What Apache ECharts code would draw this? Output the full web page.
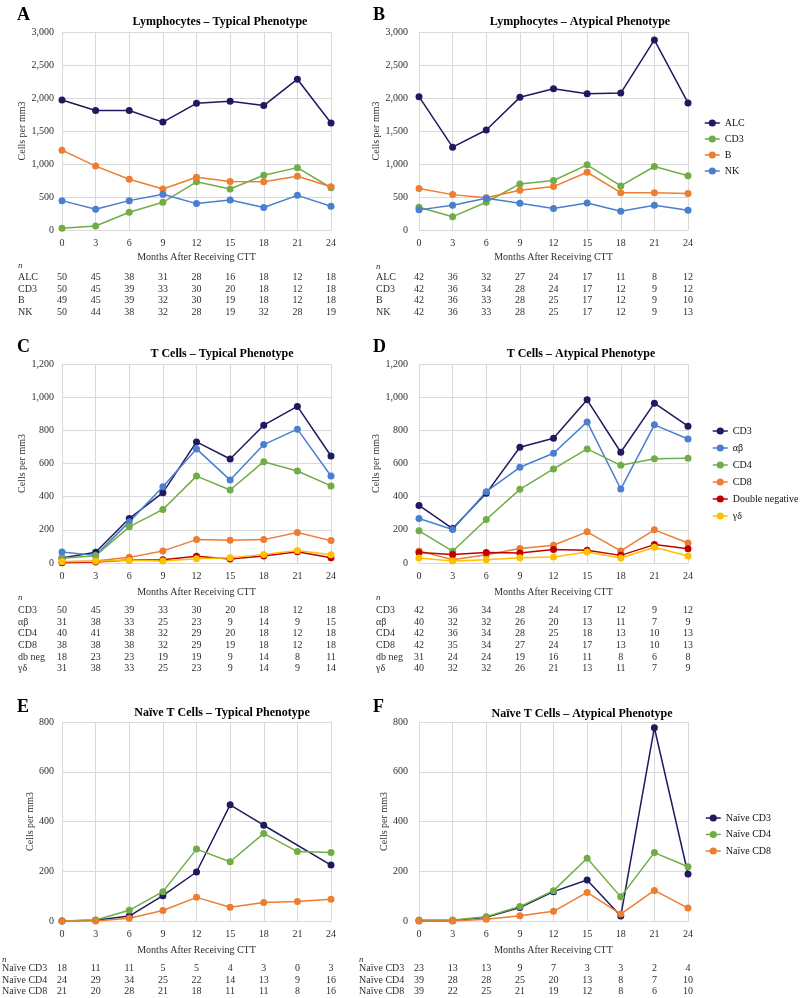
<!DOCTYPE html>
<html><head><meta charset="utf-8">
<script src="https://cdn.jsdelivr.net/npm/echarts@6/dist/echarts.min.js"></script>
<style>html,body{margin:0;padding:0;background:#fff}#c{width:800px;height:998px}</style>
</head><body><div id="c"></div>
<script>
// ---------- DATA ----------
const months = [0, 3, 6, 9, 12, 15, 18, 21, 24];

// A: Lymphocytes – Typical
const aALC = [1970, 1810, 1810, 1635, 1920, 1950, 1885, 2285, 1620];
const aCD3 = [25, 60, 268, 420, 730, 622, 830, 945, 640];
const aB   = [1210, 968, 770, 622, 800, 735, 730, 815, 655];
const aNK  = [445, 314, 445, 542, 400, 455, 340, 525, 360];
const nA_ALC = [50, 45, 38, 31, 28, 16, 18, 12, 18];
const nA_CD3 = [50, 45, 39, 33, 30, 20, 18, 12, 18];
const nA_B   = [49, 45, 39, 32, 30, 19, 18, 12, 18];
const nA_NK  = [50, 44, 38, 32, 28, 19, 32, 28, 19];

// B: Lymphocytes – Atypical
const bALC = [2020, 1255, 1515, 2010, 2140, 2065, 2075, 2880, 1925];
const bCD3 = [345, 202, 420, 698, 750, 987, 668, 962, 823];
const bB   = [628, 536, 488, 602, 658, 875, 566, 566, 552];
const bNK  = [305, 374, 480, 404, 325, 410, 285, 374, 300];
const nB_ALC = [42, 36, 32, 27, 24, 17, 11, 8, 12];
const nB_CD3 = [42, 36, 34, 28, 24, 17, 12, 9, 12];
const nB_B   = [42, 36, 33, 28, 25, 17, 12, 9, 10];
const nB_NK  = [42, 36, 33, 28, 25, 17, 12, 9, 13];

// C: T Cells – Typical
const cCD3 = [30, 65, 268, 424, 730, 627, 831, 944, 645];
const cAB  = [67, 46, 248, 460, 688, 500, 714, 807, 525];
const cCD4 = [28, 44, 218, 323, 524, 440, 611, 555, 465];
const cCD8 = [8, 12, 34, 73, 141, 137, 141, 184, 135];
const cDN  = [2, 6, 18, 20, 40, 24, 42, 68, 32];
const cGD  = [8, 10, 16, 12, 26, 32, 52, 75, 50];
const nC_CD3 = [50, 45, 39, 33, 30, 20, 18, 12, 18];
const nC_AB  = [31, 38, 33, 25, 23, 9, 14, 9, 15];
const nC_CD4 = [40, 41, 38, 32, 29, 20, 18, 12, 18];
const nC_CD8 = [38, 38, 38, 32, 29, 19, 18, 12, 18];
const nC_DN  = [18, 23, 23, 19, 19, 9, 14, 8, 11];
const nC_GD  = [31, 38, 33, 25, 23, 9, 14, 9, 14];

// D: T Cells – Atypical
const dCD3 = [347, 208, 420, 698, 752, 984, 668, 964, 825];
const dAB  = [268, 202, 430, 577, 662, 851, 446, 833, 748];
const dCD4 = [194, 71, 262, 444, 567, 688, 589, 629, 632];
const dCD8 = [73, 20, 50, 87, 107, 188, 73, 200, 121];
const dDN  = [63, 52, 63, 60, 81, 77, 46, 111, 86];
const dGD  = [30, 12, 20, 32, 36, 67, 30, 95, 42];
const nD_CD3 = [42, 36, 34, 28, 24, 17, 12, 9, 12];
const nD_AB  = [40, 32, 32, 26, 20, 13, 11, 7, 9];
const nD_CD4 = [42, 36, 34, 28, 25, 18, 13, 10, 13];
const nD_CD8 = [42, 35, 34, 27, 24, 17, 13, 10, 13];
const nD_DN  = [31, 24, 24, 19, 16, 11, 8, 6, 8];
const nD_GD  = [40, 32, 32, 26, 21, 13, 11, 7, 9];

// E: Naïve T Cells – Typical
const eCD3 = [0, 3, 20, 102, 197, 467, 385, null, 225];
const eCD4 = [0, 4, 43, 118, 289, 238, 352, 279, 275];
const eCD8 = [0, 0, 11, 42, 95, 55, 74, 78, 87];
const nE_CD3 = [18, 11, 11, 5, 5, 4, 3, 0, 3];
const nE_CD4 = [24, 29, 34, 25, 22, 14, 13, 9, 16];
const nE_CD8 = [21, 20, 28, 21, 18, 11, 11, 8, 16];

// F: Naïve T Cells – Atypical
const fCD3 = [1, 1, 15, 54, 118, 165, 20, 777, 189];
const fCD4 = [4, 4, 17, 58, 122, 252, 97, 275, 218];
const fCD8 = [0, 0, 7, 21, 39, 115, 28, 123, 52];
const nF_CD3 = [23, 13, 13, 9, 7, 3, 3, 2, 4];
const nF_CD4 = [39, 28, 28, 25, 20, 13, 8, 7, 10];
const nF_CD8 = [39, 22, 25, 21, 19, 12, 8, 6, 10];

// ---------- STYLE ----------
const FONT = '"Liberation Serif", "Times New Roman", serif';
const NAVY = '#1d1a60', GREEN = '#70ad47', ORANGE = '#ed7d31', BLUE = '#4a7ecf', RED = '#c00000', GOLD = '#ffc000';
const GRIDC = '#d9d9d9', TXT = '#2e2e2e';
const X_NAME = 'Months After Receiving CTT', Y_NAME = 'Cells per mm3';

const panels = [
  { letter: 'A', title: 'Lymphocytes – Typical Phenotype', yMax: 3000, yStep: 500,
    series: [['ALC', aALC, NAVY], ['CD3', aCD3, GREEN], ['B', aB, ORANGE], ['NK', aNK, BLUE]],
    table: [['ALC', nA_ALC], ['CD3', nA_CD3], ['B', nA_B], ['NK', nA_NK]], legend: false },
  { letter: 'B', title: 'Lymphocytes – Atypical Phenotype', yMax: 3000, yStep: 500,
    series: [['ALC', bALC, NAVY], ['CD3', bCD3, GREEN], ['B', bB, ORANGE], ['NK', bNK, BLUE]],
    table: [['ALC', nB_ALC], ['CD3', nB_CD3], ['B', nB_B], ['NK', nB_NK]], legend: true },
  { letter: 'C', title: 'T Cells – Typical Phenotype', yMax: 1200, yStep: 200,
    series: [['CD3', cCD3, NAVY], ['αβ', cAB, BLUE], ['CD4', cCD4, GREEN], ['CD8', cCD8, ORANGE], ['Double negative', cDN, RED], ['γδ', cGD, GOLD]],
    table: [['CD3', nC_CD3], ['αβ', nC_AB], ['CD4', nC_CD4], ['CD8', nC_CD8], ['db neg', nC_DN], ['γδ', nC_GD]], legend: false },
  { letter: 'D', title: 'T Cells – Atypical Phenotype', yMax: 1200, yStep: 200,
    series: [['CD3', dCD3, NAVY], ['αβ', dAB, BLUE], ['CD4', dCD4, GREEN], ['CD8', dCD8, ORANGE], ['Double negative', dDN, RED], ['γδ', dGD, GOLD]],
    table: [['CD3', nD_CD3], ['αβ', nD_AB], ['CD4', nD_CD4], ['CD8', nD_CD8], ['db neg', nD_DN], ['γδ', nD_GD]], legend: true },
  { letter: 'E', title: 'Naïve T Cells – Typical Phenotype', yMax: 800, yStep: 200,
    series: [['Naïve CD3', eCD3, NAVY], ['Naïve CD4', eCD4, GREEN], ['Naïve CD8', eCD8, ORANGE]],
    table: [['Naïve CD3', nE_CD3], ['Naïve CD4', nE_CD4], ['Naïve CD8', nE_CD8]], legend: false },
  { letter: 'F', title: 'Naïve T Cells – Atypical Phenotype', yMax: 800, yStep: 200,
    series: [['Naïve CD3', fCD3, NAVY], ['Naïve CD4', fCD4, GREEN], ['Naïve CD8', fCD8, ORANGE]],
    table: [['Naïve CD3', nF_CD3], ['Naïve CD4', nF_CD4], ['Naïve CD8', nF_CD8]], legend: true }
];

// ---------- LAYOUT ----------
const layout = [
  { left: 62,  top: 32,  height: 198, titleX: 220, titleY: 22,  letterX: 17,  letterY: 15,  rowX: 18,  nY: 266, yNameGap: 34, yLabMargin: 8,  xNameGap: 22 },
  { left: 419, top: 32,  height: 198, titleX: 580, titleY: 22,  letterX: 373, letterY: 15,  rowX: 376, nY: 267, yNameGap: 34, yLabMargin: 11, xNameGap: 22, legX: 704, legY: 118, legGap: 6 },
  { left: 62,  top: 364, height: 199, titleX: 222, titleY: 354, letterX: 17,  letterY: 347, rowX: 18,  nY: 598, yNameGap: 34, yLabMargin: 8,  xNameGap: 24 },
  { left: 419, top: 364, height: 199, titleX: 581, titleY: 354, letterX: 373, letterY: 347, rowX: 376, nY: 598, yNameGap: 35, yLabMargin: 11, xNameGap: 24, legX: 712, legY: 426, legGap: 7 },
  { left: 62,  top: 722, height: 199, titleX: 222, titleY: 713, letterX: 17,  letterY: 707, rowX: 2,   nY: 960, yNameGap: 27, yLabMargin: 8,  xNameGap: 24 },
  { left: 419, top: 722, height: 199, titleX: 582, titleY: 714, letterX: 373, letterY: 707, rowX: 359, nY: 960, yNameGap: 27, yLabMargin: 11, xNameGap: 24, legX: 705, legY: 813, legGap: 6.5 }
];
const PLOT_W = 269;

const grid = [], xAxis = [], yAxis = [], series = [], legend = [], graphic = [];

function txt(x, y, text, font, align, fill) {
  return { type: 'text', x: x, y: y, silent: true,
    style: { text: text, font: font, fill: fill || '#000', align: align, verticalAlign: 'middle', textAlign: align, textVerticalAlign: 'middle' } };
}

panels.forEach((p, i) => {
  const L = layout[i];
  grid.push({ left: L.left, top: L.top, width: PLOT_W, height: L.height, containLabel: false, outerBoundsMode: 'none' });
  const mainX = xAxis.length;
  xAxis.push({
    type: 'value', gridIndex: i, min: 0, max: 24, interval: 3, position: 'bottom',
    axisLine: { show: true, lineStyle: { color: GRIDC, width: 1 } },
    axisTick: { show: false },
    splitLine: { show: true, lineStyle: { color: GRIDC, width: 1 } },
    axisLabel: { margin: 8, fontSize: 10, fontFamily: FONT, color: TXT },
    name: X_NAME, nameLocation: 'middle', nameGap: L.xNameGap,
    nameTextStyle: { fontSize: 10, fontFamily: FONT, color: TXT }
  });
  p.table.forEach((row, r) => {
    const vals = row[1];
    xAxis.push({
      type: 'value', gridIndex: i, min: 0, max: 24, interval: 3, position: 'bottom',
      offset: 42.5 + 11.6 * r,
      axisLine: { show: false }, axisTick: { show: false }, splitLine: { show: false },
      axisLabel: { margin: 0, fontSize: 10, fontFamily: FONT, color: TXT,
        formatter: v => String(vals[Math.round(v / 3)]) },
      name: row[0], nameLocation: 'start', nameGap: L.left - L.rowX, nameMoveOverlap: false,
      nameTextStyle: { align: 'left', verticalAlign: 'top', fontSize: 10, fontFamily: FONT, color: TXT }
    });
  });
  yAxis.push({
    type: 'value', gridIndex: i, min: 0, max: p.yMax, interval: p.yStep,
    axisLine: { show: false }, axisTick: { show: false },
    splitLine: { show: true, lineStyle: { color: GRIDC, width: 1 } },
    axisLabel: { margin: L.yLabMargin, fontSize: 10, fontFamily: FONT, color: TXT,
      formatter: v => v.toLocaleString('en-US') },
    name: Y_NAME, nameLocation: 'middle', nameGap: L.yNameGap,
    nameTextStyle: { fontSize: 10, fontFamily: FONT, color: TXT }
  });
  p.series.forEach(s => {
    series.push({
      type: 'line', name: s[0], xAxisIndex: mainX, yAxisIndex: i,
      data: months.map((m, k) => [m, s[1][k] == null ? '-' : s[1][k]]),
      connectNulls: true, symbol: 'circle', symbolSize: 7, smooth: false,
      lineStyle: { color: s[2], width: 1.5 }, itemStyle: { color: s[2] },
      emphasis: { disabled: true }, silent: true
    });
  });
  if (p.legend) {
    legend.push({
      orient: 'vertical', left: L.legX, top: L.legY, itemWidth: 15, itemHeight: 9, itemGap: L.legGap,
      selectedMode: false, padding: 0,
      textStyle: { fontSize: 10, fontFamily: FONT, color: '#111', lineHeight: 10 },
      data: p.series.map(s => ({ name: s[0], itemStyle: { color: s[2] }, lineStyle: { color: s[2], width: 1.5 } }))
    });
  }
  graphic.push(txt(L.titleX, L.titleY, p.title, 'bold 12px ' + FONT, 'center'));
  graphic.push(txt(L.letterX, L.letterY, p.letter, 'bold 18px ' + FONT, 'left'));
  graphic.push(txt(L.rowX, L.nY, 'n', 'italic 9px ' + FONT, 'left', TXT));
});

const chart = echarts.init(document.getElementById('c'), null, { renderer: 'canvas' });
chart.setOption({
  animation: false,
  backgroundColor: '#ffffff',
  textStyle: { fontFamily: FONT },
  grid: grid, xAxis: xAxis, yAxis: yAxis, series: series, legend: legend, graphic: graphic
});
</script>
</body></html>
